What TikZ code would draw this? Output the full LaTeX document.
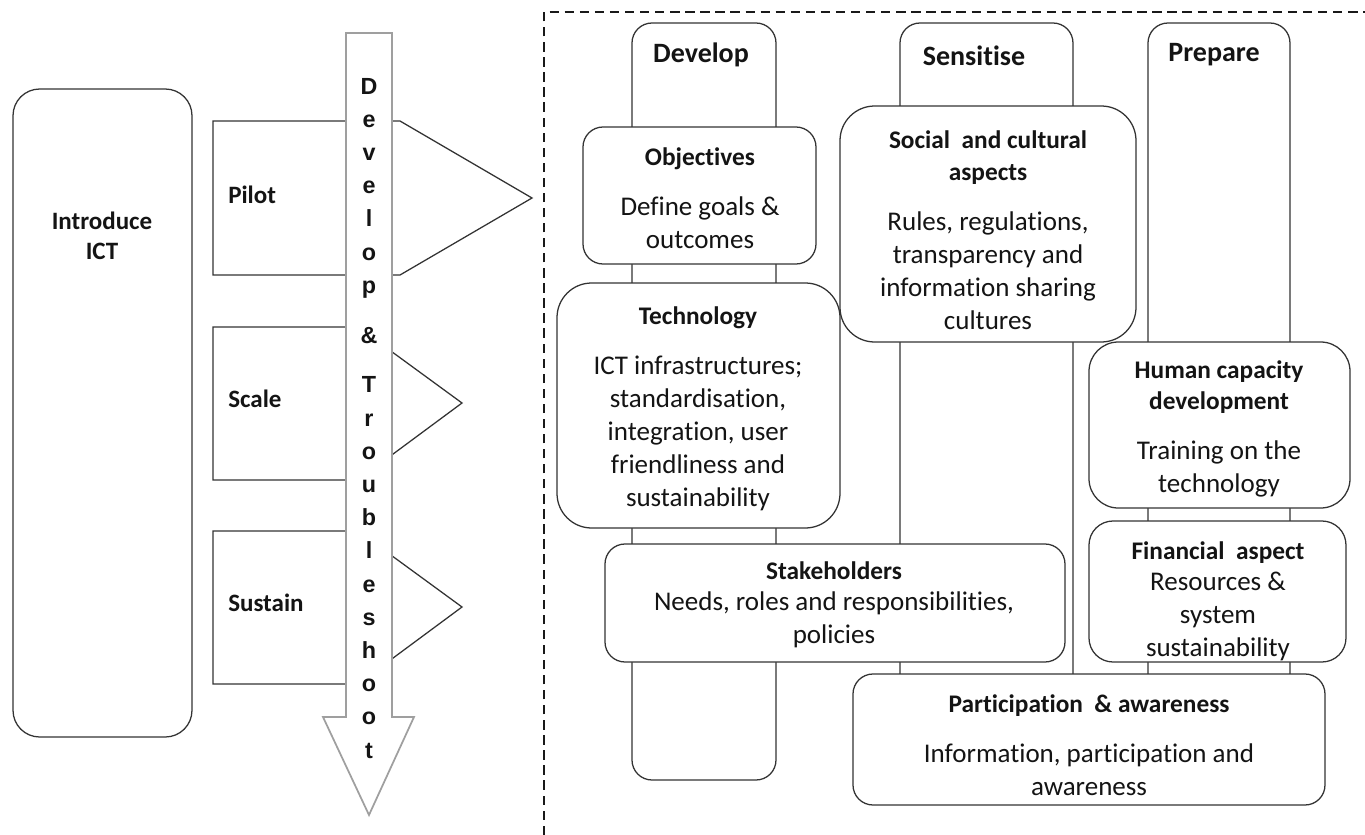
\documentclass[tikz,border=0pt]{standalone}
\usepackage{fontspec}
\setmainfont{Carlito}[Ligatures={NoCommon}]
\newfontfamily\arrowfont{Liberation Sans}
\newcommand\ttl{\bfseries\fontsize{19}{23}\selectfont}
\begin{document}
\begin{tikzpicture}[x=0.75pt,y=-0.75pt,
  ln/.style={draw=black!80, line width=0.95pt},
  box/.style={ln, fill=white, rounded corners=#1, inner sep=0pt},
  box/.default=15pt,
  body/.style={font=\fontsize{20.25}{24.75}\selectfont, align=center, text=black!92, inner sep=0pt},
  hdr/.style={font=\bfseries\fontsize{21}{25}\selectfont, text=black!92, inner sep=0pt},
  lbl/.style={font=\bfseries\fontsize{18.75}{22.5}\selectfont, align=center, text=black!92, inner sep=0pt},
  arr/.style={font=\arrowfont\bfseries\fontsize{17.5}{20}\selectfont, text=black!92, inner sep=0pt},
  frame/.style={draw=black!90, line width=2.2pt, dash pattern=on 7pt off 4.3pt}
]
\useasboundingbox (0,0) rectangle (1365,835);

% ---------------- left part ----------------
\node[box=20pt, minimum width=134.25pt, minimum height=486pt] (intro) at (102.5,413) {};
\node[lbl] (introT) at (102,236) {Introduce\\ICT};

\draw[ln, fill=white] (213,121) -- (400,121) -- (532,198) -- (400,275) -- (213,275) -- cycle;
\draw[ln, fill=white] (213,327) -- (358,327) -- (462,403) -- (358,480) -- (213,480) -- cycle;
\draw[ln, fill=white] (213,531) -- (358,531) -- (462,607) -- (358,684) -- (213,684) -- cycle;
\node[lbl, anchor=west] (pilot) at (228,195) {Pilot};
\node[lbl, anchor=west] (scale) at (228,399) {Scale};
\node[lbl, anchor=west] (sustain) at (228,603) {Sustain};

\draw[draw=gray!75, line width=1.3pt, fill=white, line join=miter]
  (346,33) -- (392,33) -- (392,717) -- (414,717) -- (369,815) -- (323,717) -- (346,717) -- cycle;
\foreach \ch/\k [count=\i] in {D/0,e/1,v/2,e/3,l/4,o/5,p/6,\&/7.5,T/9,r/10,o/11,u/12,b/13,l/14,e/15,s/16,h/17,o/18,o/19,t/20}
  \node[arr, anchor=base] (L\i) at (369,94+33.2*\k) {\ch};

% ---------------- dashed frame ----------------
\draw[frame] (544,835) -- (544,12) -- (1365,12);

% ---------------- columns ----------------
\node[box=15pt, minimum width=108pt, minimum height=567.75pt] (dev) at (704,401.5) {};
\node[box=15pt, minimum width=129.75pt, minimum height=567.75pt] (sen) at (986.5,401.5) {};
\node[box=15pt, minimum width=106.5pt, minimum height=567.75pt] (pre) at (1219,401.5) {};
\node[hdr] (devH) at (701,55) {Develop};
\node[hdr] (senH) at (974,56) {Sensitise};
\node[hdr] (preH) at (1214,55) {Prepare};

% ---------------- boxes ----------------
\node[box=15pt, minimum width=174.75pt, minimum height=102.75pt] (obj) at (699.5,195.5) {};
\node[body] (objT) at (700,198) {{\ttl Objectives}\\[12.75pt]Define goals \&\\outcomes};

\node[box=26pt, minimum width=212.25pt, minimum height=183.75pt] (tech) at (698.5,405.5) {};
\node[body] (techT) at (698,409) {{\ttl Technology}\\[12.75pt]ICT infrastructures;\\standardisation,\\integration, user\\friendliness and\\sustainability};

\node[box=26pt, minimum width=222pt, minimum height=177pt] (soc) at (988,224) {};
\node[body] (socT) at (988,230) {{\ttl Social\ \ and cultural}\\[-0.75pt]{\ttl aspects}\\[12.75pt]Rules, regulations,\\transparency and\\information sharing\\cultures};

\node[box=22pt, minimum width=195.75pt, minimum height=124.5pt] (hum) at (1219.5,425) {};
\node[body] (humT) at (1219,429) {{\ttl Human capacity}\\[-1pt]{\ttl development}\\[12.75pt]Training on the\\technology};

\node[box=18pt, minimum width=192.75pt, minimum height=105.75pt] (fin) at (1217.5,591.5) {};
\node[body] (finT) at (1218,601) {{\ttl Financial\ \ aspect}\\[-1.5pt]Resources \&\\system\\sustainability};

\node[box=15pt, minimum width=345pt, minimum height=88.5pt] (stk) at (835,603) {};
\node[body] (stkT) at (834,605) {{\ttl Stakeholders}\\[-1.5pt]Needs, roles and responsibilities,\\policies};

\node[box=15pt, minimum width=354pt, minimum height=98.25pt] (par) at (1089,739.5) {};
\node[body] (parT) at (1089,745) {{\ttl Participation\ \ \& awareness}\\[12.75pt]Information, participation and\\awareness};
\end{tikzpicture}
\end{document}
